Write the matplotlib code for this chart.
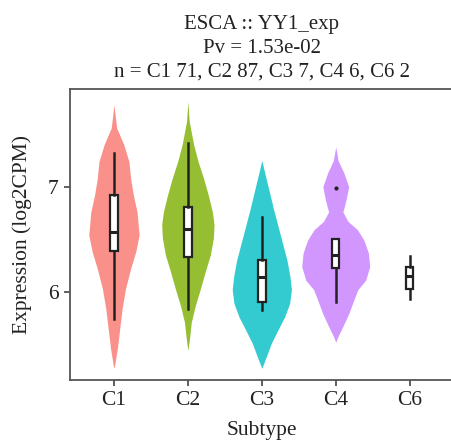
import numpy as np
import matplotlib
matplotlib.use("Agg")
import matplotlib.pyplot as plt

plt.rcParams['font.family'] = ['Liberation Serif', 'DejaVu Serif']

# groups and colours
subtypes = ['C1', 'C2', 'C3', 'C4', 'C6']
colors = ['#F8766D', '#7CAE00', '#00BFC4', '#C77CFF', None]

# violin outlines: expression level and half width (relative density)
c1_y = [7.78, 7.56, 7.40, 7.24, 7.08, 6.92, 6.76, 6.54, 6.38, 6.22, 6.03, 5.84, 5.65, 5.46, 5.30, 5.27]
c1_d = [0.0, 0.08, 0.29, 0.44, 0.49, 0.57, 0.68, 0.74, 0.64, 0.49, 0.34, 0.24, 0.17, 0.10, 0.02, 0.0]
c2_y = [7.81, 7.62, 7.40, 7.24, 7.08, 6.92, 6.76, 6.64, 6.51, 6.35, 6.19, 6.03, 5.87, 5.71, 5.56, 5.44]
c2_d = [0.0, 0.04, 0.17, 0.30, 0.46, 0.60, 0.72, 0.77, 0.75, 0.66, 0.51, 0.37, 0.22, 0.10, 0.05, 0.0]
c3_y = [7.25, 7.10, 6.94, 6.78, 6.62, 6.46, 6.30, 6.14, 6.02, 5.89, 5.76, 5.64, 5.51, 5.38, 5.27]
c3_d = [0.0, 0.11, 0.23, 0.35, 0.48, 0.61, 0.74, 0.83, 0.87, 0.82, 0.67, 0.48, 0.28, 0.13, 0.0]
c4_y = [7.38, 7.25, 7.13, 7.00, 6.87, 6.76, 6.67, 6.59, 6.49, 6.37, 6.24, 6.11, 6.02, 5.92, 5.79, 5.67, 5.57, 5.52]
c4_d = [0.0, 0.07, 0.24, 0.38, 0.30, 0.21, 0.36, 0.64, 0.83, 0.96, 1.0, 0.88, 0.65, 0.53, 0.38, 0.21, 0.06, 0.0]
violin_y = [c1_y, c2_y, c3_y, c4_y, None]
violin_d = [c1_d, c2_d, c3_d, c4_d, None]

# box plot statistics
q1 = [6.39, 6.33, 5.90, 6.23, 6.03]
med = [6.57, 6.60, 6.14, 6.35, 6.15]
q3 = [6.92, 6.81, 6.30, 6.50, 6.24]
whislo = [5.74, 5.84, 5.83, 5.90, 5.93]
whishi = [7.32, 7.42, 6.71, 6.50, 6.34]
outliers = [[], [], [], [6.99], []]

fig = plt.figure(figsize=(4.51, 4.42), dpi=100)
ax = fig.add_axes([0.1543, 0.1403, 0.8524, 0.6583])

pos = np.arange(1, len(subtypes) + 1)
for i in range(len(subtypes)):
    if violin_y[i] is None:
        continue
    y = np.array(violin_y[i])
    w = np.array(violin_d[i]) * 0.46
    ax.fill_betweenx(y, pos[i] - w, pos[i] + w, color=colors[i], alpha=0.8, lw=0, zorder=1)

stats = []
for i, s in enumerate(subtypes):
    stats.append(dict(label=s, med=med[i], q1=q1[i], q3=q3[i],
                      whislo=whislo[i], whishi=whishi[i], fliers=outliers[i]))
ax.bxp(stats, positions=pos, widths=0.1, patch_artist=True, showcaps=False,
       boxprops=dict(facecolor='white', edgecolor='#222222', linewidth=1.6),
       medianprops=dict(color='#222222', linewidth=2.2),
       whiskerprops=dict(color='#222222', linewidth=1.8),
       flierprops=dict(marker='o', markersize=2, markerfacecolor='#222222',
                       markeredgecolor='#222222'),
       zorder=3)

ax.set_xlim(0.4, 5.6)
ax.set_ylim(5.16, 7.93)
ax.set_xticks(pos)
ax.set_xticklabels(subtypes)
ax.set_yticks([6, 7])
ax.set_yticklabels(['6', '7'])
ax.tick_params(labelsize=15.5, color='#444444', length=4, width=1.2, labelcolor='#222222', pad=4)
for sp in ax.spines.values():
    sp.set_color('#555555')
    sp.set_linewidth(1.3)

ax.set_xlabel('Subtype', fontsize=15.5, color='#222222', labelpad=8)
ax.set_ylabel('Expression (log2CPM)', fontsize=15.5, color='#222222', labelpad=11)
ax.set_title('ESCA :: YY1_exp\nPv = 1.53e-02\nn = C1 71, C2 87, C3 7, C4 6, C6 2',
             fontsize=15, color='#222222', linespacing=1.35, pad=9)

fig.savefig('out.png', dpi=100)
